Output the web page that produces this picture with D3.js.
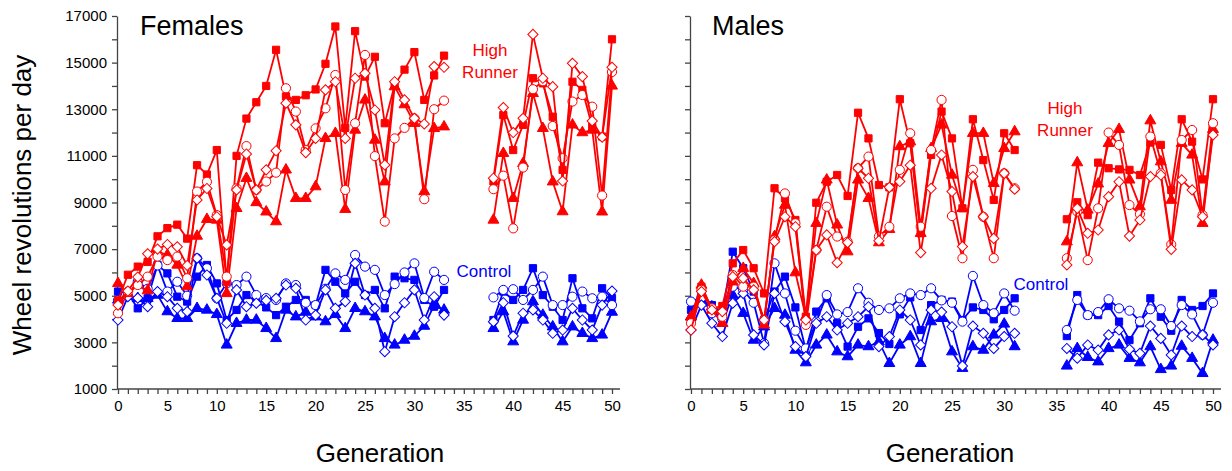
<!DOCTYPE html>
<html>
<head>
<meta charset="utf-8">
<script src="https://cdn.jsdelivr.net/npm/d3@7"></script>
<style>
  body { margin: 0; background: #fff; }
  text { font-family: "Liberation Sans", Arial, sans-serif; }
</style>
</head>
<body>
<div id="container"></div>
<script>
/* CONSTANTS AND GLOBALS */
const width = 1232, height = 471;
const red = "#ff0000", blue = "#0000ff";

// generations measured in each panel
const femaleGens = d3.range(0, 34).concat(d3.range(38, 51));
const maleGens = d3.range(0, 32).concat(d3.range(36, 51));
const yTicks = d3.range(1000, 17001, 1000);
const yLabels = d3.range(1000, 17001, 2000);
const xLabels = d3.range(0, 51, 5);

/* DATA - females, high runner lines */
const fHRsquare = [4800,5900,6250,6450,7550,7900,8050,7450,10600,10200,11250,5600,11000,12600,13300,14000,15550,13550,13400,13600,13850,14950,16550,12200,16350,14400,15250,12400,14050,14700,15450,13400,14450,15300,
  9900,12750,11250,12330,14330,14110,12680,10400,14180,13830,12250,11830,16000];
const fHRtriangle = [5530,5100,5460,5220,6890,6750,6320,5390,7560,8280,8250,5100,8750,10040,9000,8600,8180,10400,9180,9180,9680,11750,11970,8710,12110,13400,11680,9890,13970,13200,12400,9470,12180,12250,
  8250,11110,9180,10680,13680,12180,9890,8610,12330,12000,12110,8600,14000];
const fHRcircle = [4250,5180,5460,5820,6680,6530,6680,5750,9470,9890,8460,5820,9610,11420,9540,9900,10280,13900,12900,11250,12180,13040,14470,9540,12400,15330,10990,8180,11750,12200,12610,9140,13000,13370,
  9570,10150,7890,10500,13860,14200,12280,10900,13330,13610,13110,9300,14600];
const fHRdiamond = [4600,5200,5800,6800,7000,7200,7100,6300,9110,9600,8390,7180,9540,11080,9540,10400,11220,13260,12330,11140,11750,13830,14180,11750,14330,14540,12970,10610,14180,13400,12610,12370,14830,14800,
  10040,13070,12000,12610,16210,14330,13970,9920,14970,14400,12500,11800,14800];

/* females, control lines */
const fCsquare = [5180,5100,4460,4890,6320,5960,4960,4750,5820,6320,5530,3960,4390,5030,4750,4500,4170,4530,4820,4820,4600,6110,5600,5100,5600,5030,5250,4460,5820,5750,5680,4820,4530,5250,
  3960,5180,4820,5250,6180,5030,4530,3960,5750,4460,4030,5320,4900];
const fCtriangle = [4820,5030,4890,4890,5030,4320,4030,4030,4460,4390,4200,2890,3820,3960,3960,3600,3170,4390,4100,4300,4100,3890,4200,3600,4460,4320,4100,3170,2890,3100,3270,3700,4600,4390,
  3600,4320,3030,3960,4750,4170,3670,3030,3670,3390,3170,3320,4300];
const fCcircle = [4800,5000,5600,5300,6300,5180,5600,5000,6610,6180,4890,5530,5460,5820,5030,4900,4820,5530,5460,4700,4600,5300,5960,5680,6750,6250,6110,5030,5500,6000,6390,4900,6030,5680,
  4930,5250,5280,4820,5250,5820,4600,4600,4960,5180,4890,4960,4600];
const fCdiamond = [3960,4960,4900,4530,5180,4960,4460,4320,6610,5890,4890,3820,5250,4530,4680,4800,4890,5460,5320,3960,4170,5250,4460,4750,6390,5030,4460,2600,4100,4700,5250,3960,4960,4170,
  3890,4700,3270,4250,4390,3960,3390,3530,4460,3960,3530,4600,5200];

/* males, high runner lines */
const mHRsquare = [3960,5390,4460,4560,6390,6960,6180,5100,9610,9180,8250,4100,8990,9890,10180,9280,12850,11750,9750,9650,13430,11540,7680,11040,12900,11750,8750,12570,10820,9110,11970,11250,
  8280,9010,8460,10710,10470,10420,10400,10180,11570,11470,9540,12570,11610,9990,13430];
const mHRtriangle = [4100,5460,4390,3820,5600,6180,5530,3750,7540,8890,5990,4100,8110,9970,8040,6890,9970,9180,7280,7850,11400,11610,7680,11320,12330,10180,8750,11970,11970,9820,11320,12040,
  7320,10710,8680,9800,11540,12140,9970,8820,12510,10750,9100,11540,11040,8110,12140];
const mHRcircle = [3820,5250,4460,4100,5890,5390,5390,3960,7390,9390,8110,3750,6960,8820,7540,7320,10470,10970,7540,7960,10400,11970,7960,11250,13400,8420,6610,10400,8390,6610,10250,9610,
  6610,8610,6530,8750,12000,11470,8890,8500,11830,10250,7200,11680,12110,8460,12400];
const mHRdiamond = [3530,5180,4390,4320,5820,5750,5250,3960,7320,8390,7960,3960,6960,7610,6420,7280,10470,10040,7360,9650,9900,10600,6850,9610,11040,9470,7110,10110,8390,7460,10250,9570,
  6320,8750,7680,7820,9250,9890,7560,8250,10110,10180,6990,9970,9540,8390,11900];

/* males, control lines */
const mCsquare = [4390,5030,4600,4250,6890,6180,5180,3960,5180,5820,4500,2670,4320,4890,3820,2820,3670,4030,3400,2930,4200,4930,3530,4600,4820,4750,3960,4500,4390,3990,4390,4890,
  3270,5030,4170,4170,4560,3890,3100,3820,4890,4100,3500,4820,4390,4560,5100];
const mCtriangle = [4100,4820,4530,3820,5030,4250,3100,3670,4460,4170,2670,2130,2890,3320,2600,2390,2890,2820,3030,2100,2890,3250,2100,3890,4030,2600,1890,2820,2670,3320,3790,2820,
  1990,2740,2360,2170,2740,2890,2320,2130,2820,1840,1990,2840,2320,1670,3100];
const mCcircle = [4750,4930,4250,4000,5390,5250,4700,2960,6390,5100,3500,2740,3890,5030,4200,4300,5320,4700,4390,4460,4890,5100,5030,5320,4800,4700,3890,5850,4600,4250,5100,4360,
  3530,4820,4170,4300,4850,4460,4360,3900,4420,4420,3700,4600,4200,3320,4700];
const mCdiamond = [3530,4600,3820,3250,4680,5100,3320,2890,5100,3890,2820,2390,3820,4100,3530,3820,4100,4530,2820,3250,4390,3960,2890,4390,4300,3670,1990,3700,3390,2740,3250,3390,
  2740,2320,2890,2670,3320,3530,2700,2530,3700,3170,2460,3700,3250,3320,2890];

const svg = d3.select("#container").append("svg")
  .attr("width", width).attr("height", height);

const yScale = d3.scaleLinear().domain([1000, 17000]).range([389, 16]);

const shapes = {
  square: { type: d3.symbolSquare, size: 52, rot: 0, filled: true },
  triangle: { type: d3.symbolTriangle, size: 52, rot: 0, filled: true },
  circle: { type: d3.symbolCircle, size: 66, rot: 0, filled: false },
  diamond: { type: d3.symbolSquare, size: 52, rot: 45, filled: false }
};

function drawPanel(p) {
  const xScale = d3.scaleLinear().domain([0, 50]).range(p.xRange);
  const g = svg.append("g");

  // y axis
  const yAxis = d3.axisLeft(yScale).tickValues(yTicks).tickSize(5).tickSizeOuter(0)
    .tickFormat(d => (p.labels && yLabels.includes(d)) ? d : "");
  g.append("g").attr("transform", `translate(${p.xRange[0] - 1},0)`).call(yAxis)
    .call(a => a.selectAll("text").attr("font-size", 15).attr("fill", "#000").attr("dx", -2));

  // x axis
  const xAxis = d3.axisBottom(xScale).tickValues(d3.range(0, 51)).tickSize(5).tickSizeOuter(0)
    .tickFormat(d => xLabels.includes(d) ? d : "");
  const xa = g.append("g").attr("transform", `translate(0,${yScale(1000)})`).call(xAxis);
  xa.selectAll("text").attr("font-size", 15).attr("fill", "#000").attr("dy", "0.9em");
  xa.select(".domain").attr("d", `M${p.xRange[0] - 1},0H${p.xRange[1] + 8}`);
  g.selectAll(".domain, .tick line").attr("stroke", "#444").attr("stroke-width", 1.3);

  // series, broken where generations are missing
  const line = d3.line()
    .defined(d => d.v != null)
    .x(d => xScale(d.g)).y(d => yScale(d.v));

  p.series.forEach(s => {
    const pts = p.gens.map((gen, i) => ({ g: gen, v: s.values[i] }));
    const full = d3.range(0, 51).map(gen => {
      const f = pts.find(q => q.g === gen);
      return f ? f : { g: gen, v: null };
    });
    g.append("path").datum(full)
      .attr("fill", "none").attr("stroke", s.color).attr("stroke-width", 1.8)
      .attr("d", line);
    const sh = shapes[s.shape];
    g.selectAll(null).data(pts).join("path")
      .attr("transform", d => `translate(${xScale(d.g)},${yScale(d.v)}) rotate(${sh.rot})`)
      .attr("d", d3.symbol().type(sh.type).size(sh.size))
      .attr("fill", sh.filled ? s.color : "#fff")
      .attr("stroke", s.color).attr("stroke-width", 1);
  });

  // titles and annotations
  g.append("text").attr("x", p.titleX).attr("y", 35).attr("font-size", 27).text(p.title);
  g.append("text").attr("x", (p.xRange[0] + p.xRange[1]) / 2 + p.genDx).attr("y", 462)
    .attr("text-anchor", "middle").attr("font-size", 26).text("Generation");
  const hr = g.append("text").attr("text-anchor", "middle").attr("font-size", 17).attr("fill", red);
  hr.append("tspan").attr("x", p.hrX).attr("y", p.hrY).text("High");
  hr.append("tspan").attr("x", p.hrX).attr("y", p.hrY + 22).text("Runner");
  g.append("text").attr("x", p.ctlX).attr("y", p.ctlY).attr("text-anchor", "middle")
    .attr("font-size", 17).attr("fill", blue).text("Control");
}

drawPanel({
  title: "Females", titleX: 140, xRange: [118, 612], labels: true, genDx: 15, gens: femaleGens,
  hrX: 490, hrY: 56, ctlX: 484, ctlY: 277,
  series: [
    { values: fCsquare, shape: "square", color: blue },
    { values: fCtriangle, shape: "triangle", color: blue },
    { values: fCcircle, shape: "circle", color: blue },
    { values: fCdiamond, shape: "diamond", color: blue },
    { values: fHRsquare, shape: "square", color: red },
    { values: fHRtriangle, shape: "triangle", color: red },
    { values: fHRcircle, shape: "circle", color: red },
    { values: fHRdiamond, shape: "diamond", color: red }
  ]
});

drawPanel({
  title: "Males", titleX: 712, xRange: [691, 1213], labels: false, genDx: -2, gens: maleGens,
  hrX: 1065, hrY: 114, ctlX: 1041, ctlY: 290,
  series: [
    { values: mCsquare, shape: "square", color: blue },
    { values: mCtriangle, shape: "triangle", color: blue },
    { values: mCcircle, shape: "circle", color: blue },
    { values: mCdiamond, shape: "diamond", color: blue },
    { values: mHRsquare, shape: "square", color: red },
    { values: mHRtriangle, shape: "triangle", color: red },
    { values: mHRcircle, shape: "circle", color: red },
    { values: mHRdiamond, shape: "diamond", color: red }
  ]
});

// y axis title
svg.append("text").attr("transform", "translate(31,205) rotate(-90)")
  .attr("text-anchor", "middle").attr("font-size", 26).text("Wheel revolutions per day");
</script>
</body>
</html>
